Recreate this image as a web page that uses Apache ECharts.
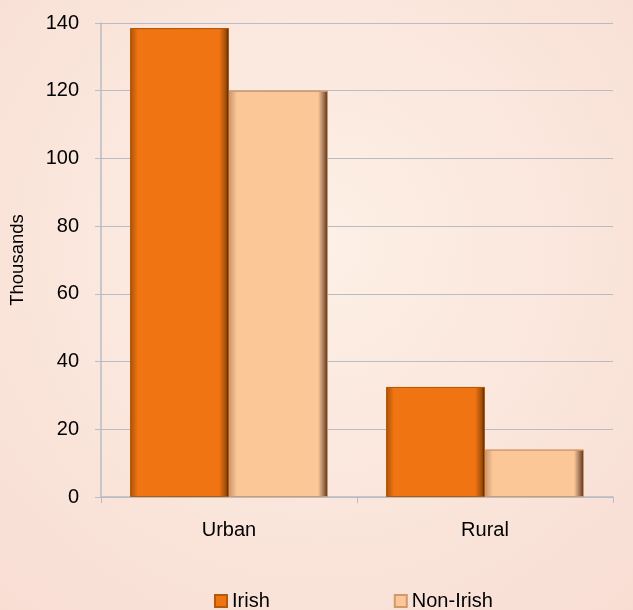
<!DOCTYPE html>
<html>
<head>
<meta charset="utf-8">
<script src="https://cdn.jsdelivr.net/npm/echarts@6/dist/echarts.min.js"></script>
<style>
	html, body { margin: 0; padding: 0; background: #fbe7dc; }
	#chart { width: 633px; height: 610px; }
</style>
</head>
<body>
<div id="chart"></div>
<script>
// chart data
var categories = ['Urban', 'Rural']
var irishData = [138.5, 32.5]
var nonIrishData = [120, 14]
var legendData = ['Irish', 'Non-Irish']

function bevel(left, mid, right) {
	return new echarts.graphic.LinearGradient(0, 0, 1, 0, [
		{ offset: 0, color: left },
		{ offset: 0.08, color: mid },
		{ offset: 0.9, color: mid },
		{ offset: 0.97, color: right },
		{ offset: 1, color: '#3a1a05' }
	])
}

var chart = echarts.init(document.getElementById('chart'))
chart.setOption({
	backgroundColor: new echarts.graphic.RadialGradient(0.5, 0.4, 0.8, [
		{ offset: 0, color: '#fdf0e6' },
		{ offset: 1, color: '#f8ddd3' }
	]),
	textStyle: { fontFamily: 'Liberation Sans, Arial, sans-serif' },
	grid: {
		left: 101,
		right: 20,
		top: 23,
		bottom: 113
	},
	legend: {
		data: legendData,
		left: 214,
		top: 591,
		padding: 0,
		itemWidth: 12,
		itemHeight: 12,
		itemGap: 124,
		icon: 'rect',
		textStyle: { color: '#000', fontSize: 20 }
	},
	xAxis: {
		type: 'category',
		data: categories,
		axisLine: { lineStyle: { color: '#b8bcc4', width: 1.5 } },
		axisTick: { show: true, length: 6, lineStyle: { color: '#b8bcc4' } },
		axisLabel: { color: '#000', fontSize: 20, margin: 23 }
	},
	yAxis: {
		type: 'value',
		min: 0,
		max: 140,
		interval: 20,
		name: 'Thousands',
		nameLocation: 'middle',
		nameGap: 74,
		nameTextStyle: { color: '#000', fontSize: 18.5 },
		axisLine: { show: true, lineStyle: { color: '#b8bcc4', width: 1.5 } },
		axisTick: { show: true, length: 6, lineStyle: { color: '#b8bcc4' } },
		axisLabel: { color: '#000', fontSize: 20, margin: 22 },
		splitLine: { lineStyle: { color: '#b8bcc4', width: 1 } }
	},
	series: [
		{
			name: 'Irish',
			type: 'bar',
			data: irishData,
			barGap: '0%',
			barCategoryGap: '22.7%',
			itemStyle: {
				color: bevel('#a9520a', '#f07512', '#a04c08'),
				borderColor: '#b35a0c',
				borderWidth: 1
			}
		},
		{
			name: 'Non-Irish',
			type: 'bar',
			data: nonIrishData,
			itemStyle: {
				color: bevel('#c9956c', '#fcc796', '#8a6248'),
				borderColor: '#d09a6c',
				borderWidth: 1
			}
		}
	]
})
</script>
</body>
</html>
